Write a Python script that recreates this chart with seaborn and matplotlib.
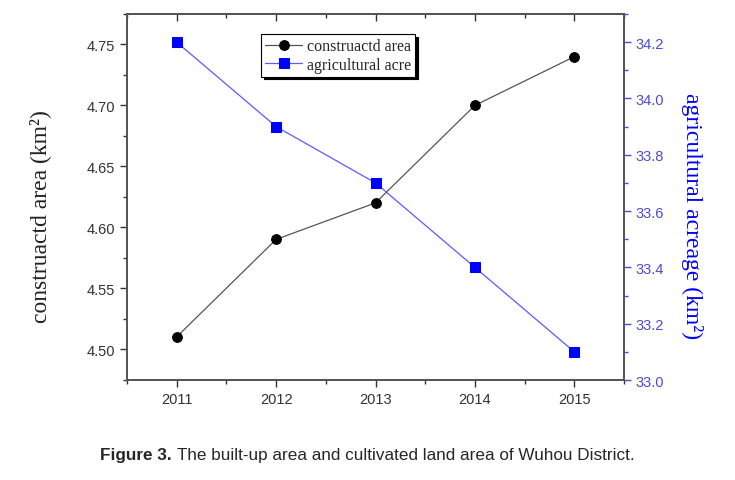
import numpy as np
import pandas as pd
import matplotlib.pyplot as plt
import seaborn as sns

# data
anos = [2011, 2012, 2013, 2014, 2015]
area_construida = [4.51, 4.59, 4.62, 4.70, 4.74]
area_agricola = [34.2, 33.9, 33.7, 33.4, 33.1]

ticks_esq = [4.50, 4.55, 4.60, 4.65, 4.70, 4.75]
ticks_dir = [33.0, 33.2, 33.4, 33.6, 33.8, 34.0, 34.2]

sns.set_style("ticks")
plt.rcParams["font.family"] = ["Liberation Sans", "DejaVu Sans"]

AZUL = "#0000ff"
AZUL_LINHA = "#5a5aff"
AZUL_EIXO = "#4b4bd6"
CINZA = "#555555"

df = pd.DataFrame({"ano": anos, "construida": area_construida, "agricola": area_agricola})

fig = plt.figure(figsize=(7.35, 4.81), dpi=100)
ax = fig.add_axes([0.1728, 0.2079, 0.6762, 0.7609])
ax2 = ax.twinx()

sns.lineplot(data=df, x="ano", y="construida", ax=ax, color=CINZA, lw=0.9,
             marker="o", markersize=7, markerfacecolor="black",
             markeredgecolor="black", label="construactd area", legend=False)
sns.lineplot(data=df, x="ano", y="agricola", ax=ax2, color=AZUL_LINHA, lw=0.9,
             marker="s", markersize=6.5, markerfacecolor=AZUL,
             markeredgecolor=AZUL, label="agricultural acre", legend=False)

ax.set_xlim(2010.5, 2015.5)
ax.set_ylim(4.4746, 4.7746)
ax2.set_ylim(33.0, 34.3)

ax.set_xticks(anos)
ax.set_xticks(np.arange(2010.5, 2015.6, 0.5), minor=True)
ax.set_yticks(ticks_esq)
ax.set_yticks(np.arange(4.475, 4.776, 0.025), minor=True)
ax.set_yticklabels([f"{v:.2f}" for v in ticks_esq])
ax2.set_yticks(ticks_dir)
ax2.set_yticks(np.arange(33.0, 34.31, 0.1), minor=True)
ax2.set_yticklabels([f"{v:.1f}" for v in ticks_dir])

for a in (ax, ax2):
    a.set_xlabel("")
    for s in a.spines.values():
        s.set_color(CINZA)
        s.set_linewidth(1.3)
ax2.spines["right"].set_color(AZUL_EIXO)

ax.tick_params(axis="both", which="major", direction="out", length=5, width=1,
               labelsize=10.5, colors="#333333")
ax.tick_params(axis="both", which="minor", direction="out", length=3, width=1,
               colors="#333333")
ax2.tick_params(axis="y", which="major", direction="out", length=5, width=1,
                labelsize=10.5, colors=AZUL_EIXO)
ax2.tick_params(axis="y", which="minor", direction="out", length=3, width=1,
                colors=AZUL_EIXO)

# top axis: inward ticks without labels
topo = ax.secondary_xaxis("top")
topo.set_xticks(anos)
topo.set_xticks(np.arange(2010.5, 2015.6, 0.5), minor=True)
topo.tick_params(which="major", direction="in", length=5, width=1, colors="#333333",
                 labeltop=False)
topo.tick_params(which="minor", direction="in", length=3, width=1, colors="#333333")
topo.spines["top"].set_color(CINZA)
topo.spines["top"].set_linewidth(1.3)

ax.set_ylabel("construactd area (km²)", family=["Liberation Serif"], fontsize=17,
              color="#222222", labelpad=26)
ax2.set_ylabel("agricultural acreage (km²)", family=["Liberation Serif"], fontsize=17,
               color=AZUL, rotation=270, labelpad=28)
ax.yaxis.label.set_y(0.45)
ax2.yaxis.label.set_y(0.45)

h1, l1 = ax.get_legend_handles_labels()
h2, l2 = ax2.get_legend_handles_labels()
leg = ax.legend(h1 + h2, l1 + l2, loc="upper left", bbox_to_anchor=(0.27, 0.945),
                prop={"family": "Liberation Serif", "size": 11.5}, frameon=True,
                fancybox=False, shadow={"color": "black", "alpha": 1},
                handlelength=2.3, handletextpad=0.3, borderpad=0.25,
                labelspacing=0.15, borderaxespad=0)
leg.get_frame().set_edgecolor("black")
leg.get_frame().set_linewidth(0.8)
leg.get_frame().set_alpha(1)
ax.set_zorder(ax2.get_zorder() + 1)
ax.patch.set_visible(False)

fig.text(100 / 735, 0.052, "Figure 3.", ha="left", va="center", fontsize=12.3,
         fontweight="bold")
fig.text(177 / 735, 0.052, "The built-up area and cultivated land area of Wuhou District.",
         ha="left", va="center", fontsize=12.3)

fig.savefig("out.png", dpi=100)
plt.close(fig)
